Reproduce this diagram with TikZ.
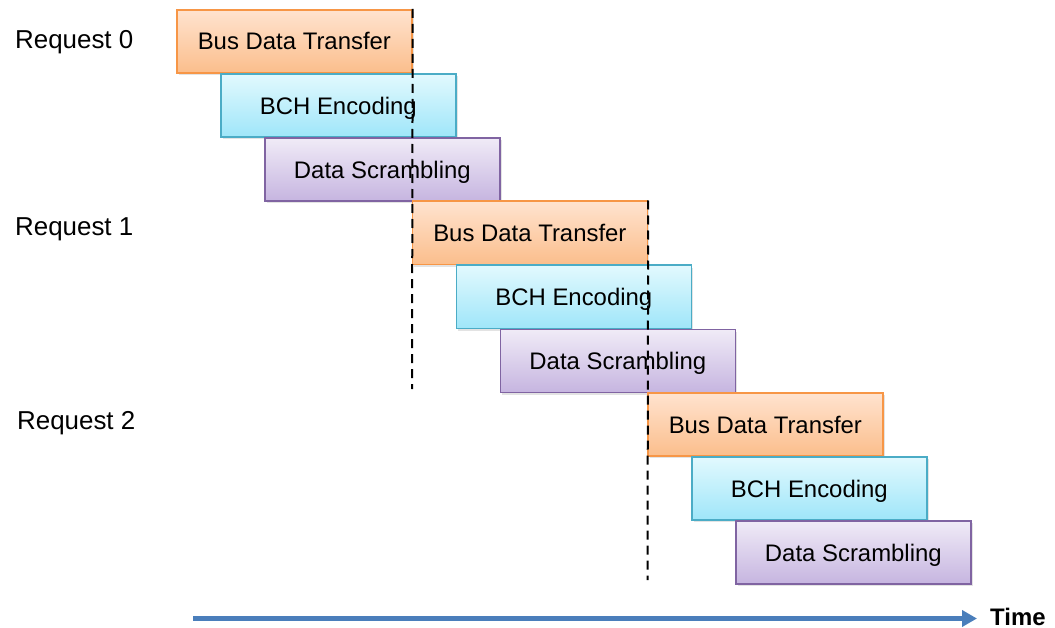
\documentclass[tikz,border=0pt]{standalone}
\usepackage{fontspec}
\setmainfont{Liberation Sans}
\usetikzlibrary{arrows.meta,shadows}

\definecolor{busTop}{HTML}{FFE3CF}
\definecolor{busBot}{HTML}{FBBE8C}
\definecolor{busLine}{HTML}{F79646}
\definecolor{bchTop}{HTML}{E2F9FE}
\definecolor{bchBot}{HTML}{9FE6F9}
\definecolor{bchLine}{HTML}{4BACC6}
\definecolor{scrTop}{HTML}{F0EBF7}
\definecolor{scrBot}{HTML}{C6B5E0}
\definecolor{scrLine}{HTML}{8064A2}
\definecolor{timeBlue}{HTML}{4A7EBB}

\tikzset{
  stage/.style={rectangle, anchor=north west, inner sep=0pt,
    minimum width=235bp, minimum height=63bp, line width=1.7bp,
    font=\fontsize{24}{28}\selectfont, shading=axis, text depth=0pt,
    drop shadow={shadow xshift=2bp, shadow yshift=-2.5bp, opacity=0.22}},
  busbox/.style={stage, draw=busLine, top color=busTop, bottom color=busBot},
  bchbox/.style={stage, draw=bchLine, top color=bchTop, bottom color=bchBot},
  scrbox/.style={stage, draw=scrLine, top color=scrTop, bottom color=scrBot},
  reqlabel/.style={anchor=base west, inner sep=0pt, font=\fontsize{26}{30}\selectfont},
  boundary/.style={draw=black, line width=2bp, dash pattern=on 9bp off 6bp},
  timeline/.style={draw=timeBlue, line width=4.5bp,
    -{Triangle[length=15bp, width=16bp]}, shorten >=13bp}
}

\begin{document}
\begin{tikzpicture}[x=1bp, y=-1bp]
  \useasboundingbox (0,0) rectangle (1055,628);

  % request labels
  \node[reqlabel] (r0) at (15,49)  {Request 0};
  \node[reqlabel] (r1) at (15,236) {Request 1};
  \node[reqlabel] (r2) at (17,429) {Request 2};

  % request 0 pipeline
  \node[busbox] (bus0) at (176,9)   {Bus Data Transfer};
  \node[bchbox] (bch0) at (220,73)  {BCH Encoding};
  \node[scrbox] (scr0) at (264,137) {Data Scrambling};

  % request 1 pipeline
  \node[busbox] (bus1) at (411.5,200.5) {Bus Data Transfer};
  \node[bchbox] (bch1) at (455.5,264.5) {BCH Encoding};
  \node[scrbox] (scr1) at (499.5,328.5) {Data Scrambling};

  % request 2 pipeline
  \node[busbox] (bus2) at (647,392) {Bus Data Transfer};
  \node[bchbox] (bch2) at (691,456) {BCH Encoding};
  \node[scrbox] (scr2) at (735,520) {Data Scrambling};

  % stage boundaries
  \coordinate (end0) at (412,389);
  \coordinate (end1) at (647.5,580);
  \draw[boundary] (bus0.north east) -- (end0);
  \draw[boundary] (bus1.north east) -- (end1);

  % time axis
  \node[anchor=base west, inner sep=0pt, font=\bfseries\fontsize{24}{28}\selectfont]
    (time) at (990,625) {Time};
  \coordinate (t0) at (193,618.5);
  \draw[timeline] (t0) -- (t0 -| time.west);
\end{tikzpicture}
\end{document}
